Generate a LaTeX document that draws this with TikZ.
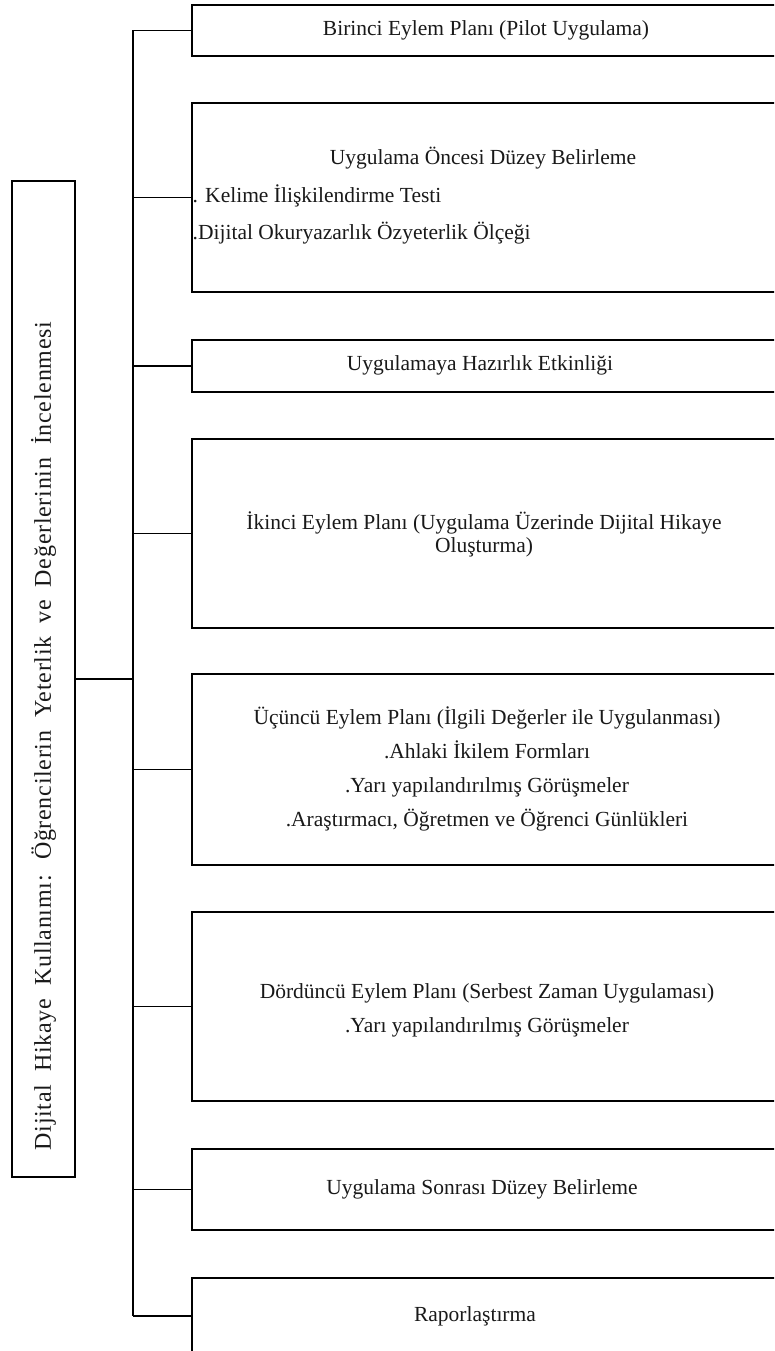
\documentclass[tikz,border=0pt]{standalone}
\usepackage{fontspec}
\setmainfont{Liberation Serif}
\newfontfamily\spreadserif[LetterSpace=3]{Liberation Serif}
\newcommand\titlefont{\spreadserif\fontsize{24}{30}\selectfont\spaceskip=13pt\relax}
\begin{document}
\begin{tikzpicture}[x=1pt,y=-1pt,
  frame/.style={draw=black, line width=1.5pt, rectangle, inner sep=0pt, outer sep=0pt,
                anchor=north west, minimum width=590pt},
  txt/.style={font=\fontsize{21.5}{34}\selectfont, text=black!90, align=center, inner sep=0pt},
  link/.style={draw=black, line width=1.5pt}]
\useasboundingbox (0,0) rectangle (774,1351);
\clip (0,0) rectangle (774,1351);

% title box on the left
\node[draw=black, line width=1.5pt, inner sep=0pt, outer sep=0pt, anchor=north west,
      minimum width=63pt, minimum height=996pt] (lb) at (12,181) {};
\node[txt, font=\titlefont, rotate=90] (title) at (43.5,736)
  {Dijital Hikaye Kullanımı: Öğrencilerin Yeterlik ve Değerlerinin İncelenmesi};

% step boxes
\node[frame, minimum height=51pt]  (b1) at (192,5) {};
\node[frame, minimum height=189pt] (b2) at (192,103) {};
\node[frame, minimum height=52pt]  (b3) at (192,340) {};
\node[frame, minimum height=189pt] (b4) at (192,439) {};
\node[frame, minimum height=191pt] (b5) at (192,674) {};
\node[frame, minimum height=189pt] (b6) at (192,912) {};
\node[frame, minimum height=81pt]  (b7) at (192,1149) {};
\node[frame, minimum height=76pt]  (b8) at (192,1278) {};

% box texts
\node[txt] (t1) at (486,30) {Birinci Eylem Planı (Pilot Uygulama)};
\node[txt] (t2a) at (483,158) {Uygulama Öncesi Düzey Belirleme};
\node[txt, anchor=west] (t2b) at (192.5,196) {. Kelime İlişkilendirme Testi};
\node[txt, anchor=west] (t2c) at (192.5,233) {.Dijital Okuryazarlık Özyeterlik Ölçeği};
\node[txt] (t3) at (480,365) {Uygulamaya Hazırlık Etkinliği};
\node[txt] (t4) at (484,534)
  {İkinci Eylem Planı (Uygulama Üzerinde Dijital Hikaye\\[-11pt]Oluşturma)};
\node[txt] (t5) at (487,769)
  {Üçüncü Eylem Planı (İlgili Değerler ile Uygulanması)\\
   .Ahlaki İkilem Formları\\
   .Yarı yapılandırılmış Görüşmeler\\
   .Araştırmacı, Öğretmen ve Öğrenci Günlükleri};
\node[txt] (t6) at (487,1010)
  {Dördüncü Eylem Planı (Serbest Zaman Uygulaması)\\
   .Yarı yapılandırılmış Görüşmeler};
\node[txt] (t7) at (482,1189) {Uygulama Sonrası Düzey Belirleme};
\node[txt] (t8) at (475,1316) {Raporlaştırma};

% trunk and branches
\coordinate (tr) at (133,0);
\draw[link] (lb.east) -- (lb.east -| tr);
\draw[link] (b1.west -| tr) -- (b8.west -| tr);
\foreach \b in {b1,b2,b3,b4,b5,b6,b7,b8}
  \draw[link] (\b.west -| tr) -- (\b.west);
\end{tikzpicture}
\end{document}
